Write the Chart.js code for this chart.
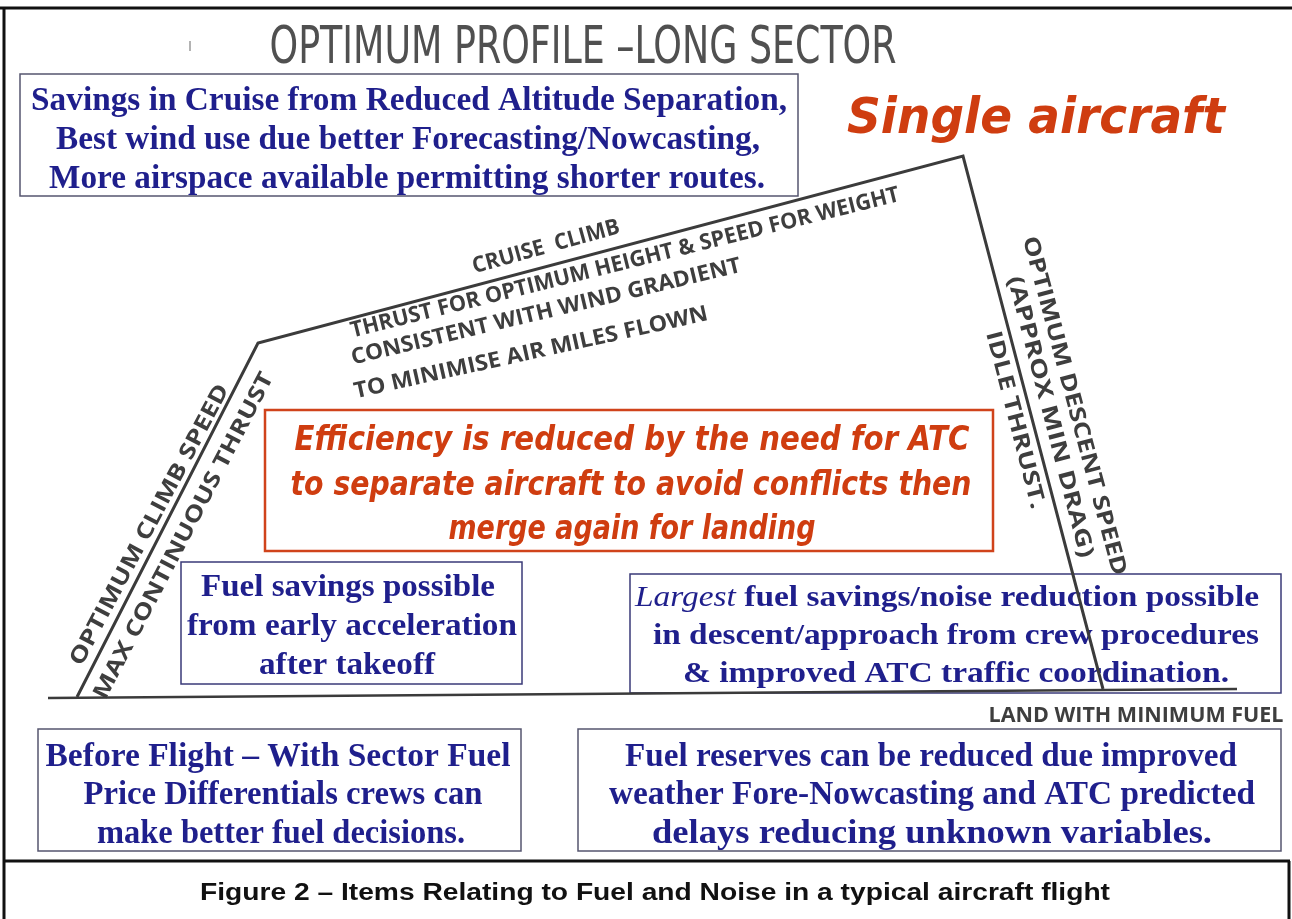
<!DOCTYPE html>
<html>
<head>
<meta charset="utf-8">
<script src="https://cdn.jsdelivr.net/npm/chart.js@4"></script>
<style>
  html, body { margin: 0; padding: 0; background: #fff; }
  #chart { display: block; }
</style>
</head>
<body>
<canvas id="chart" width="1292" height="919"></canvas>
<script>
// Flight profile (x along the sector, y = drawing height, 0 at top)
const profileX = [77, 258, 963, 1103];
const profileY = [697, 343, 156, 689];
const groundX = [48, 1237];
const groundY = [698, 689];

// Texts
const titleText = 'OPTIMUM PROFILE \u2013LONG SECTOR';
const singleText = 'Single aircraft';
const captionText = 'Figure 2 \u2013 Items Relating to Fuel and Noise in a typical aircraft flight';
const landText = 'LAND WITH MINIMUM FUEL';
const cruiseBoxLines = [
    'Savings in Cruise from Reduced Altitude Separation,',
    'Best wind use due better Forecasting/Nowcasting,',
    'More airspace available permitting shorter routes.'
];
const accelBoxLines = ['Fuel savings possible', 'from early acceleration', 'after takeoff'];
const descentBoxLines = [
    ['Largest', ' fuel savings/noise reduction possible'],
    'in descent/approach from crew procedures',
    '& improved ATC traffic coordination.'
];
const beforeBoxLines = ['Before Flight \u2013 With Sector Fuel', 'Price Differentials crews can', 'make better fuel decisions.'];
const reserveBoxLines = [
    'Fuel reserves can be reduced due improved',
    'weather Fore-Nowcasting and ATC predicted',
    'delays reducing unknown variables.'
];
const atcBoxLines = [
    'Efficiency is reduced by the need for ATC',
    'to separate aircraft to avoid conflicts then',
    'merge again for landing'
];
const climbLabels = ['OPTIMUM CLIMB SPEED', 'MAX CONTINUOUS THRUST'];
const cruiseLabels = ['CRUISE  CLIMB', 'THRUST FOR OPTIMUM HEIGHT & SPEED FOR WEIGHT', 'CONSISTENT WITH WIND GRADIENT', 'TO MINIMISE AIR MILES FLOWN'];
const descentLabels = ['OPTIMUM DESCENT SPEED', '(APPROX MIN DRAG)', 'IDLE THRUST.'];

// Layout: [centerX, baselineY, width] per line, boxes as [x, y, w, h]
const BLUE = '#1f1f8c';
const RED = '#cf3d10';
const GREY = '#3e3e3e';
const blueFont = 'bold 33px "Liberation Serif"';
const labelFont = 'bold 22px "Open Sans"';

const boxes = [
    { rect: [20, 74, 778, 122], color: '#55556f', lw: 1.5, font: 'bold 34px "Liberation Serif"', textColor: BLUE,
      lines: cruiseBoxLines, pos: [[409, 110, 756], [408, 149, 704], [407, 188, 716]] },
    { rect: [181, 562, 341, 122], color: '#3a3a78', lw: 1.5, font: 'bold 31px "Liberation Serif"', textColor: BLUE,
      lines: accelBoxLines, pos: [[348, 596, 294], [352, 635, 330], [347, 674, 176]] },
    { rect: [630, 574, 651, 119], color: '#3a3a78', lw: 1.5, font: 'bold 30px "Liberation Serif"', textColor: BLUE,
      lines: descentBoxLines, pos: [[947, 606, 624], [956, 644, 606], [956, 682, 546]] },
    { rect: [38, 729, 483, 122], color: '#55556f', lw: 1.5, font: blueFont, textColor: BLUE,
      lines: beforeBoxLines, pos: [[278, 766, 465], [283, 804, 399], [281, 843, 368]] },
    { rect: [578, 729, 703, 122], color: '#55556f', lw: 1.5, font: blueFont, textColor: BLUE,
      lines: reserveBoxLines, pos: [[931, 766, 612], [932, 804, 646], [932, 843, 560]] },
    { rect: [265, 410, 728, 141], color: '#d0431b', lw: 2.5, font: 'italic bold 33px "DejaVu Sans"', textColor: RED,
      lines: atcBoxLines, pos: [[632, 450, 675], [631, 495, 681], [632, 539, 367]] }
];

// rotated labels: [centerX, centerY, width, angle]
const climbPos = [[150, 525, 315, -62], [184, 536, 365, -62.5]];
const cruisePos = [[546, 247, 152, -15.5], [625, 263, 565, -14], [546, 312, 400, -13.4], [531, 353, 362, -12.5]];
const descentPos = [[1074, 406, 350, 75], [1050, 417, 290, 75.5], [1015, 420, 183, 75.5]];

function fitText(ctx, text, x, y, w, font, color, angle, baseline) {
    ctx.save();
    ctx.font = font;
    ctx.fillStyle = color;
    ctx.textAlign = 'center';
    ctx.textBaseline = baseline || 'alphabetic';
    ctx.translate(x, y);
    if (angle) ctx.rotate(angle * Math.PI / 180);
    const m = ctx.measureText(text).width;
    ctx.scale(w / m, 1);
    ctx.fillText(text, 0, 0);
    ctx.restore();
}

// mixed italic + bold line
function fitMixed(ctx, parts, x, y, w, boldFont, color) {
    const italicFont = boldFont.replace('bold', 'italic');
    ctx.save();
    ctx.fillStyle = color;
    ctx.textBaseline = 'alphabetic';
    ctx.textAlign = 'left';
    ctx.font = italicFont;
    const w1 = ctx.measureText(parts[0]).width;
    ctx.font = boldFont;
    const w2 = ctx.measureText(parts[1]).width;
    const s = w / (w1 + w2);
    ctx.translate(x - w / 2, y);
    ctx.scale(s, 1);
    ctx.font = italicFont;
    ctx.fillText(parts[0], 0, 0);
    ctx.font = boldFont;
    ctx.fillText(parts[1], w1, 0);
    ctx.restore();
}

const diagramPlugin = {
    id: 'diagram',
    beforeDatasetsDraw(chart) {
        const ctx = chart.ctx;
        const sx = chart.scales.x, sy = chart.scales.y;
        const px = v => sx.getPixelForValue(v);
        const py = v => sy.getPixelForValue(v);

        // frame
        ctx.save();
        ctx.strokeStyle = '#111';
        ctx.lineWidth = 3;
        ctx.beginPath();
        ctx.moveTo(0, 8); ctx.lineTo(1292, 8);
        ctx.moveTo(4, 8); ctx.lineTo(4, 919);
        ctx.moveTo(4, 861); ctx.lineTo(1290, 861);
        ctx.moveTo(1289, 861); ctx.lineTo(1289, 919);
        ctx.stroke();
        // small stray mark left of the title
        ctx.strokeStyle = '#9a9a9a';
        ctx.lineWidth = 1.5;
        ctx.beginPath();
        ctx.moveTo(190, 41); ctx.lineTo(190, 51);
        ctx.stroke();
        ctx.restore();

        fitText(ctx, titleText, px(583), py(63), 627, '52px "DejaVu Sans Condensed"', '#505050');
        fitText(ctx, singleText, px(1036), py(133), 378, 'italic bold 50px "DejaVu Sans"', RED);
        fitText(ctx, captionText, px(655), py(900), 910, 'bold 24px "Liberation Sans"', '#111');
        fitText(ctx, landText, px(1136), py(722), 295, labelFont, GREY);

        boxes.forEach(b => {
            const [x, y, w, h] = b.rect;
            ctx.save();
            ctx.strokeStyle = b.color;
            ctx.lineWidth = b.lw;
            ctx.strokeRect(px(x), py(y), w, h);
            ctx.restore();
            b.lines.forEach((line, i) => {
                const [cx, by, lw] = b.pos[i];
                if (Array.isArray(line)) fitMixed(ctx, line, px(cx), py(by), lw, b.font, b.textColor);
                else fitText(ctx, line, px(cx), py(by), lw, b.font, b.textColor);
            });
        });

        [[climbLabels, climbPos], [cruiseLabels, cruisePos], [descentLabels, descentPos]].forEach(([labels, pos]) => {
            labels.forEach((t, i) => {
                const [cx, cy, w, a] = pos[i];
                fitText(ctx, t, px(cx), py(cy), w, labelFont, GREY, a, 'middle');
            });
        });
    }
};

const toPoints = (xs, ys) => xs.map((x, i) => ({ x: x, y: ys[i] }));

new Chart(document.getElementById('chart'), {
    type: 'scatter',
    data: {
        datasets: [
            {
                label: 'Profile',
                data: toPoints(profileX, profileY),
                showLine: true,
                borderColor: '#3b3b3b',
                borderWidth: 3,
                pointRadius: 0,
                tension: 0
            },
            {
                label: 'Ground',
                data: toPoints(groundX, groundY),
                showLine: true,
                borderColor: '#3b3b3b',
                borderWidth: 2.5,
                pointRadius: 0
            }
        ]
    },
    options: {
        responsive: false,
        animation: false,
        layout: { padding: 0 },
        scales: {
            x: { type: 'linear', min: 0, max: 1292, display: false },
            y: { type: 'linear', min: 0, max: 919, reverse: true, display: false }
        },
        plugins: {
            legend: { display: false },
            tooltip: { enabled: false }
        }
    },
    plugins: [diagramPlugin]
});
</script>
</body>
</html>
